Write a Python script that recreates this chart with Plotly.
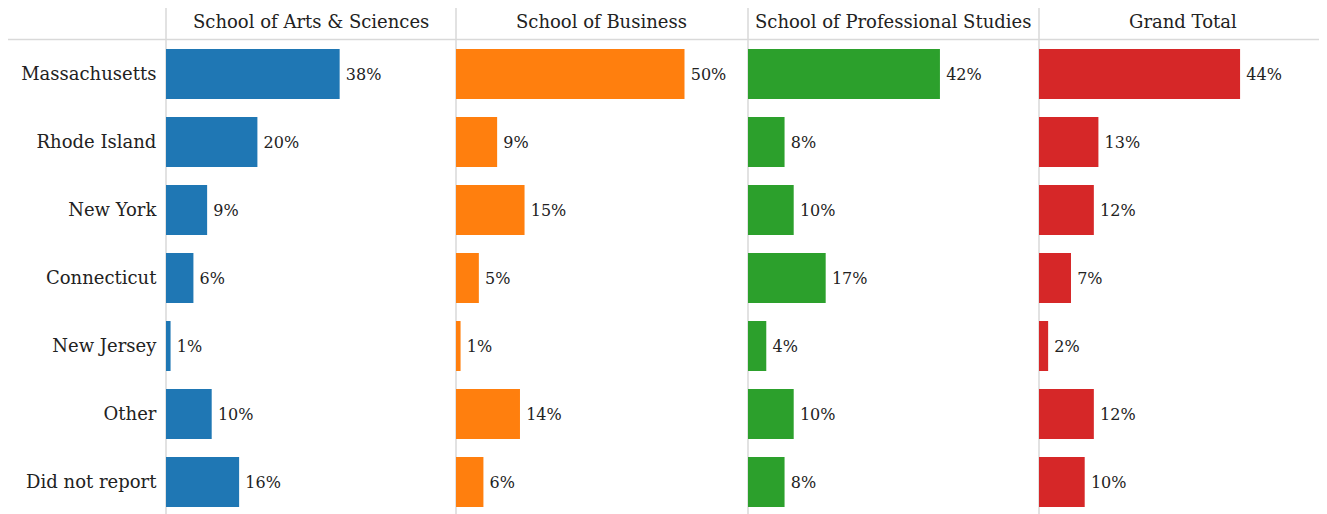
import plotly.graph_objects as go

states = ["Massachusetts", "Rhode Island", "New York", "Connecticut",
          "New Jersey", "Other", "Did not report"]
schools = ["School of Arts & Sciences", "School of Business",
           "School of Professional Studies", "Grand Total"]
arts = [38, 20, 9, 6, 1, 10, 16]
business = [50, 9, 15, 5, 1, 14, 6]
professional = [42, 8, 10, 17, 4, 10, 8]
grand_total = [44, 13, 12, 7, 2, 12, 10]
series = [arts, business, professional, grand_total]
colors = ["#1f77b4", "#ff7f0e", "#2ca02c", "#d62728"]

OFF = 8  # page body margin
W, H = 1327, 514
ML, MT, MR = 166 - OFF, 40 - OFF, OFF
PW, PH = W - ML - MR, H - MT
FONT = "DejaVu Serif"
PX_PER_PCT = 4.57

# panel pixel extents (figure coordinates)
panels_px = [(166, 455), (456, 746), (748, 1038), (1039, 1327)]
panels_px = [(a - OFF, b - OFF) for a, b in panels_px]

fig = go.Figure()
for i, (vals, col) in enumerate(zip(series, colors)):
    ax = "" if i == 0 else str(i + 1)
    fig.add_trace(go.Bar(
        x=vals, y=states, orientation="h",
        marker=dict(color=col, line=dict(width=0)),
        width=0.735,
        text=[f"\u2009{v}%" for v in vals], textposition="outside",
        textfont=dict(family=FONT, size=16, color="#222"),
        cliponaxis=False,
        xaxis="x" + ax, yaxis="y" + ax,
        hoverinfo="skip", showlegend=False,
    ))
    p0, p1 = panels_px[i]
    d0 = (p0 - ML) / PW
    d1 = min((p1 - ML) / PW, 1)
    fig.layout["xaxis" + ax] = dict(
        domain=[d0, d1], range=[0, (p1 - p0) / PX_PER_PCT],
        visible=False, fixedrange=True,
    )
    fig.layout["yaxis" + ax] = dict(
        anchor="x" + ax, range=[PH / 68 - 0.5, -0.5],
        showgrid=False, zeroline=False, showline=False,
        showticklabels=(i == 0), ticks="outside", ticklen=5,
        tickcolor="rgba(0,0,0,0)",
        tickfont=dict(family=FONT, size=18, color="#222"),
        **({} if i == 0 else {"matches": "y"}),
    )
    # header title
    fig.add_annotation(
        x=(d0 + d1) / 2, y=(H - (22 - OFF)) / PH, xref="paper", yref="paper",
        text=schools[i], showarrow=False, xanchor="center", yanchor="middle",
        font=dict(family=FONT, size=18, color="#222"),
    )
    # vertical separator
    fig.add_shape(type="line", xref="paper", yref="paper",
                  x0=d0, x1=d0, y0=-0.01, y1=(H - (7 - OFF)) / PH,
                  line=dict(color="#d9d9d9", width=1.5), layer="below")

# header bottom rule
fig.add_shape(type="line", xref="paper", yref="paper",
              x0=-(ML + 1) / PW, x1=1 + 2 * MR / PW,
              y0=(H - (39.5 - OFF)) / PH, y1=(H - (39.5 - OFF)) / PH,
              line=dict(color="#d9d9d9", width=1.5), layer="below")

fig.update_layout(
    width=W + OFF, height=H,
    margin=dict(l=ML, r=MR + OFF, t=MT, b=0),
    paper_bgcolor="white", plot_bgcolor="white",
    font=dict(family=FONT),
)
fig.write_html("out.html")
